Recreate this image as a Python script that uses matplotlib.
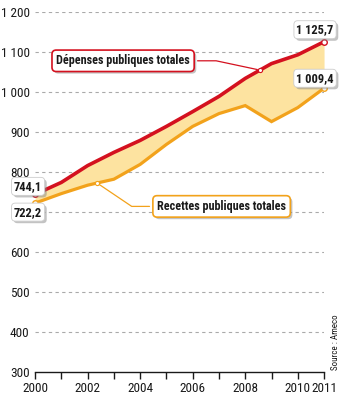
import matplotlib
matplotlib.use("Agg")
import numpy as np
import matplotlib.pyplot as plt
import matplotlib.patheffects as pe

plt.rcParams['font.family'] = ['Roboto Condensed', 'Liberation Sans', 'DejaVu Sans']

# dépenses et recettes publiques, en milliards d'euros
years = [2000, 2001, 2002, 2003, 2004, 2005, 2006, 2007, 2008, 2009, 2010, 2011]
depenses = [744.1, 774, 816, 849, 879, 914, 951, 989, 1034, 1071, 1093, 1125.7]
recettes = [722.2, 746, 767, 782, 819, 869, 914, 946, 966, 926, 961, 1009.4]
xlabels = ['2000', '', '2002', '', '2004', '', '2006', '', '2008', '', '2010', '2011']
yticks = [300, 400, 500, 600, 700, 800, 900, 1000, 1100, 1200]

red = '#d4111f'
orange = '#f2a21b'
txt = '#1a1a1a'

def fmt(v):
    s = f"{v:,.1f}".replace(',', ' ').replace('.', ',')
    return s

fig = plt.figure(figsize=(3.44, 4.0), dpi=100)
ax = fig.add_axes([0.102, 0.07, 0.84, 0.9])

ax.fill_between(years, depenses, recettes, color='#fde3a0', lw=0, zorder=1)
ax.plot(years, recettes, color=orange, lw=2.3, zorder=3, solid_joinstyle='miter')
ax.plot(years, depenses, color=red, lw=2.6, zorder=4, solid_joinstyle='miter')

# marqueurs aux extrémités
for serie, c in ((depenses, red), (recettes, orange)):
    ax.plot([years[0], years[-1]], [serie[0], serie[-1]], 'o', ms=4, mfc='white',
            mec=c, mew=1, zorder=6, clip_on=False)

ax.set_xlim(2000, 2011)
ax.set_ylim(300, 1200)
ax.set_yticks(yticks)
ax.set_yticklabels([f"{v:,}".replace(',', ' ') for v in yticks])
ax.set_xticks(years)
ax.set_xticklabels(xlabels)
ax.tick_params(axis='y', length=0, pad=4, labelsize=9.5, labelcolor=txt)
ax.tick_params(axis='x', length=5, width=1, direction='out', pad=2,
               labelsize=9.5, labelcolor=txt, color=txt)
for s in ('top', 'right', 'left'):
    ax.spines[s].set_visible(False)
ax.spines['bottom'].set_color(txt)
ax.spines['bottom'].set_linewidth(1)
for v in yticks[1:]:
    ax.axhline(v, color='#aaaaaa', lw=0.8, ls=(0, (3, 3)), zorder=0)

shadow = [pe.withSimplePatchShadow(offset=(1.5, -1.5), shadow_rgbFace='#888888', alpha=0.5)]

# étiquettes des valeurs de début et de fin
def value_label(x, y, dx, dy):
    t = ax.annotate(fmt(y), xy=(x, y), xytext=(dx, dy), textcoords='offset pixels',
                    ha='center', va='center', fontsize=9, fontweight='bold', color=txt,
                    bbox=dict(boxstyle='round,pad=0.2,rounding_size=0.3', fc='white',
                              ec='#cccccc', lw=0.6),
                    zorder=8, annotation_clip=False)
    t.get_bbox_patch().set_path_effects(shadow)

value_label(years[0], depenses[0], -7, 8)
value_label(years[0], recettes[0], -7, -9)
value_label(years[-1], depenses[-1], -9, 12)
value_label(years[-1], recettes[-1], -9, 10)

# légendes avec renvoi vers la courbe
def callout(text, x, serie, c, xytext, angleB):
    y = np.interp(x, years, serie)
    ax.plot([x], [y], 'o', ms=3, mfc='white', mec=c, mew=0.8, zorder=7)
    t = ax.annotate(text, xy=(x, y), xytext=xytext, ha='center', va='center',
                    fontsize=8.7, fontweight='bold', color=txt,
                    bbox=dict(boxstyle='round,pad=0.35,rounding_size=0.35', fc='white',
                              ec=c, lw=1.2),
                    arrowprops=dict(arrowstyle='-', color=c, lw=0.9, shrinkB=2,
                                    connectionstyle=f'angle,angleA=0,angleB={angleB},rad=0'),
                    zorder=8)
    t.get_bbox_patch().set_path_effects(shadow)

callout('Dépenses publiques totales', 2008.56, depenses, red, (2003.35, 1078), -12)
callout('Recettes publiques totales', 2002.36, recettes, orange, (2007.1, 714), 146)

fig.text(0.975, 0.145, 'Source : Ameco', rotation=90, fontsize=6.5, color=txt,
         ha='center', va='center')

fig.savefig('out.png', dpi=100)
